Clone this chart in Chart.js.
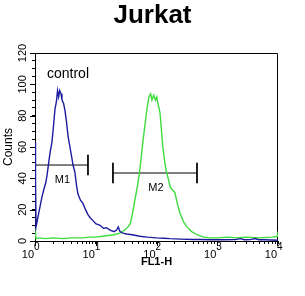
<!DOCTYPE html>
<html><head><meta charset="utf-8">
<script src="https://cdn.jsdelivr.net/npm/chart.js@4.4.1/dist/chart.umd.min.js"></script>
<style>html,body{margin:0;padding:0;background:#fff;}</style>
</head><body>
<canvas id="c" width="305" height="296"></canvas>
<script>
const chartTitle = 'Jurkat';
const xAxisTitle = 'FL1-H';
const yAxisTitle = 'Counts';
const controlLabel = 'control';
const xDecades = [1, 10, 100, 1000, 10000];
const xDecadeExponents = ['0', '1', '2', '3', '4'];
const yTickValues = [0, 20, 40, 60, 80, 100, 120];

const blueX = [1.01, 1.02, 1.04, 1.08, 1.14, 1.21, 1.30, 1.40, 1.50, 1.58, 1.68, 1.78, 1.90, 2.00, 2.13, 2.25, 2.35, 2.45, 2.55, 2.68, 2.78, 2.95, 3.12, 3.30, 3.50, 3.76, 4.00, 4.25, 4.54, 4.80, 5.10, 5.60, 6.16, 6.80, 7.40, 8.03, 9.0, 10.0, 11.8, 13.5, 15.0, 17.2, 20.0, 22.0, 23.5, 25.0, 28.0, 32.0, 40.0, 53.0, 70.0, 100, 130, 166, 250, 400, 520, 800, 1200, 2000, 2400, 2800, 3500, 4200, 4800, 6000, 10000];
const blueY = [63, 40, 9, 12, 17, 22, 28, 33, 37, 42, 50, 57, 63, 72, 84, 89, 96, 92, 96, 94, 90, 88, 83, 76, 67, 60, 54, 48, 44, 36, 30, 26, 24, 20, 17, 15, 13, 11, 10, 8, 8.5, 7, 6, 7, 9, 6, 5, 4.5, 4, 3, 2.5, 2, 1.8, 1.5, 1.2, 1, 1, 0.8, 0.8, 0.9, 1.5, 0.8, 0.9, 1.6, 0.8, 0.8, 0.5];

const greenX = [1.01, 1.02, 1.04, 1.2, 1.5, 2, 3, 4, 6, 8, 10, 13, 16, 20, 25, 30, 34, 37, 40, 44, 49, 53, 60, 65, 70, 75, 80, 84, 90, 96, 101, 108, 114, 120, 127, 135, 144, 153, 170, 200, 220, 242, 280, 317, 380, 464, 600, 755, 1000, 1500, 2000, 3000, 5000, 8000, 9800, 10000];
const greenY = [8, 4, 1.5, 2, 1.5, 2, 1.5, 2, 2, 2.5, 2.5, 3, 3.5, 4, 5, 7, 9, 11, 17, 26, 36, 45, 64, 75, 85, 92, 94, 90, 93, 90, 92, 86, 82, 72, 60, 52, 45, 41, 34, 31, 24, 18, 12, 9, 6, 4, 2.5, 2, 2, 2.5, 2, 2.5, 2, 2.5, 3, 6];

const markerNames = ['M1', 'M2'];
const markerStart = [1, 19.2];
const markerEnd = [7.45, 464];
const markerLevel = [48.5, 43.4];

const FONT = '"Liberation Sans", Arial, sans-serif';
const markerTickHalf = 6.5;

const zip = (xs, ys) => xs.map((x, i) => ({x: x, y: ys[i]}));

const datasets = [
  {label: 'control', data: zip(blueX, blueY), borderColor: '#1c1ca0', borderWidth: 1.4},
  {label: 'Jurkat', data: zip(greenX, greenY), borderColor: '#3cdc3c', borderWidth: 1.4}
];
markerNames.forEach((n, i) => {
  const s = markerStart[i], e = markerEnd[i], l = markerLevel[i];
  datasets.push({label: n, data: [{x: s, y: l}, {x: e, y: l}], borderColor: '#000', borderWidth: 1});
  datasets.push({label: n + 's', data: [{x: s, y: l + markerTickHalf}, {x: s, y: l - markerTickHalf}], borderColor: '#000', borderWidth: 1});
  datasets.push({label: n + 'e', data: [{x: e, y: l + markerTickHalf}, {x: e, y: l - markerTickHalf}], borderColor: '#000', borderWidth: 1});
});
datasets.forEach(d => { d.showLine = true; d.pointRadius = 0; d.tension = 0; d.fill = false; d.yAxisID = 'y'; d.xAxisID = 'x'; });

const overlay = {
  id: 'overlay',
  beforeDatasetsDraw(chart) {
    const {ctx, chartArea: a} = chart;
    ctx.save();
    ctx.strokeStyle = '#000';
    ctx.lineWidth = 1;
    ctx.beginPath();
    const t = Math.round(a.top) + 0.5, r = Math.round(a.right) - 0.5;
    ctx.moveTo(a.left, t); ctx.lineTo(r, t); ctx.lineTo(r, a.bottom);
    ctx.stroke();
    ctx.restore();
  },
  afterDraw(chart) {
    const {ctx, chartArea: a} = chart;
    const xs = chart.scales.x, ys = chart.scales.y;
    ctx.save();
    ctx.strokeStyle = '#000';
    ctx.fillStyle = '#000';
    ctx.lineWidth = 1;
    ctx.beginPath();
    xDecades.forEach(v => {
      const px = Math.min(Math.round(xs.getPixelForValue(v)) + 0.5, a.right - 0.5);
      ctx.moveTo(px, a.bottom); ctx.lineTo(px, a.bottom + 5);
    });
    yTickValues.forEach(v => {
      const py = Math.round(ys.getPixelForValue(v)) + 0.5;
      ctx.moveTo(a.left - 5, py); ctx.lineTo(a.left, py);
    });
    ctx.stroke();
    xDecades.forEach((v, i) => {
      const px = xs.getPixelForValue(v);
      ctx.font = '11px ' + FONT;
      ctx.textAlign = 'right'; ctx.textBaseline = 'alphabetic';
      ctx.fillText('10', px - 1, a.bottom + 17);
      ctx.font = '10px ' + FONT;
      ctx.textAlign = 'left';
      ctx.fillText(xDecadeExponents[i], px - 1, a.bottom + 9);
    });
    ctx.font = '11px ' + FONT;
    yTickValues.forEach(v => {
      const py = ys.getPixelForValue(v);
      ctx.save();
      ctx.translate(a.left - 9, py);
      ctx.rotate(-Math.PI / 2);
      ctx.textAlign = 'center'; ctx.textBaseline = 'alphabetic';
      ctx.fillText(String(v), 0, 0);
      ctx.restore();
    });
    ctx.font = '11px ' + FONT;
    ctx.textAlign = 'center'; ctx.textBaseline = 'middle';
    markerNames.forEach((n, i) => {
      const gx = Math.sqrt(markerStart[i] * markerEnd[i]);
      ctx.fillText(n, xs.getPixelForValue(gx) + 1, ys.getPixelForValue(markerLevel[i]) + 15);
    });
    ctx.font = '14px ' + FONT;
    ctx.textAlign = 'left';
    ctx.fillText(controlLabel, a.left + 12, a.top + 21);
    ctx.restore();
  }
};

new Chart(document.getElementById('c'), {
  type: 'scatter',
  data: {datasets: datasets},
  plugins: [overlay],
  options: {
    responsive: false,
    animation: false,
    devicePixelRatio: 1,
    layout: {padding: 0},
    plugins: {
      legend: {display: false},
      tooltip: {enabled: false},
      title: {
        display: true, text: chartTitle, color: '#000',
        font: {family: FONT, size: 26, weight: 'bold', lineHeight: 1.2},
        padding: {top: 0.5, bottom: 21.3}
      }
    },
    scales: {
      x: {
        type: 'logarithmic', position: 'bottom', min: 1, max: 10000,
        afterBuildTicks(scale) {
          const t = [];
          for (let d = 1; d < 10000; d *= 10) for (let k = 1; k < 10; k++) t.push({value: d * k});
          t.push({value: 10000});
          scale.ticks = t;
        },
        afterFit(scale) { scale.height = 55; },
        ticks: {display: false},
        grid: {display: true, drawOnChartArea: false, drawTicks: true, tickLength: 3, tickColor: '#000', color: '#000'},
        border: {display: true, color: '#000', width: 1},
        title: {display: true, text: xAxisTitle, color: '#000', font: {family: FONT, size: 11, weight: 'bold', lineHeight: 1.2}, padding: {top: 0, bottom: 27.4}}
      },
      y: {
        type: 'linear', position: 'left', min: 0, max: 120,
        ticks: {display: false, stepSize: 5},
        afterFit(scale) { scale.width = 35; },
        grid: {display: true, drawOnChartArea: false, drawTicks: true, tickLength: 3, tickColor: '#000', color: '#000'},
        border: {display: true, color: '#000', width: 1},
        title: {display: true, text: yAxisTitle, color: '#000', font: {family: FONT, size: 12, lineHeight: 1.2}, padding: {top: 1, bottom: 0}}
      },
      y2: {
        type: 'linear', position: 'right', min: 0, max: 1,
        ticks: {display: false},
        grid: {display: false},
        border: {display: false},
        afterFit(scale) { scale.width = 27; }
      }
    }
  }
});
</script>
</body></html>
